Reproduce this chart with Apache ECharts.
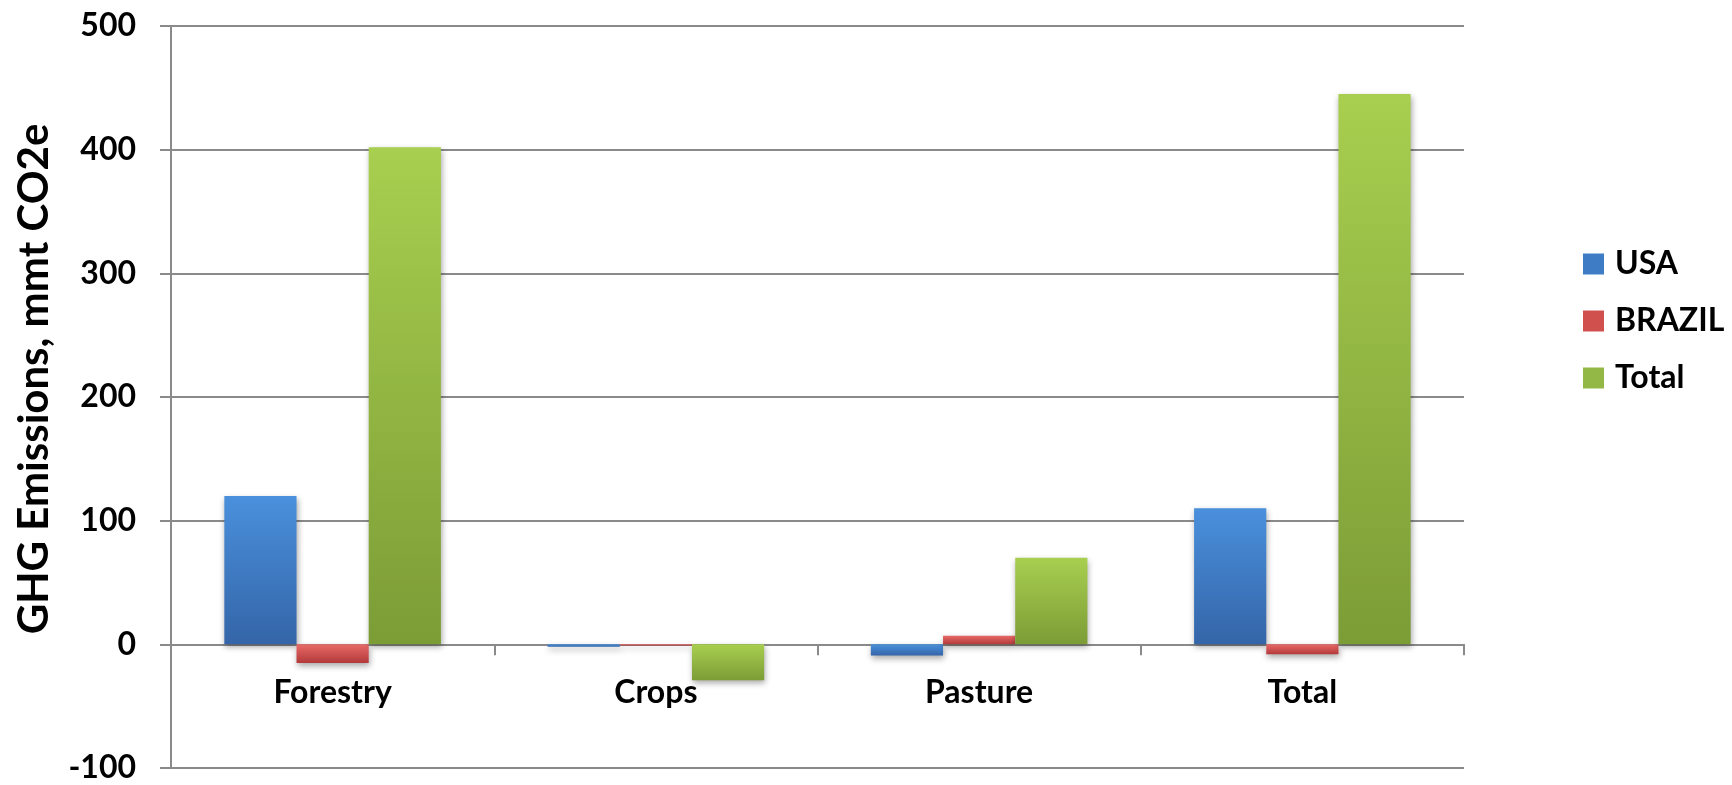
<!DOCTYPE html>
<html>
<head>
<meta charset="utf-8">
<script src="https://cdn.jsdelivr.net/npm/echarts@6/dist/echarts.min.js"></script>
<style>
html,body{margin:0;padding:0;background:#fff;}
#chart{width:1732px;height:785px;}
</style>
</head>
<body>
<div id="chart"></div>
<script>
const categories = ['Forestry', 'Crops', 'Pasture', 'Total'];
const usaValues = [120, -2, -9, 110];
const brazilValues = [-15, -1, 7, -8];
const totalValues = [402, -29, 70, 445];
const yTicks = { min: -100, max: 500, interval: 100 };

const FONT = 'Lato';
function grad(top, bottom) {
  return new echarts.graphic.LinearGradient(0, 0, 0, 1, [
    { offset: 0, color: top },
    { offset: 1, color: bottom }
  ]);
}
const styles = {
  usa: { color: grad('#4a90dc', '#3465a8'), legend: '#3f7cc6' },
  brazil: { color: grad('#e86a68', '#b3393a'), legend: '#d0504e' },
  total: { color: grad('#a8cf4f', '#7c9c36'), legend: '#93b846' }
};
function barSeries(name, data, st) {
  return {
    name: name,
    type: 'bar',
    data: data,
    barGap: '0%',
    barCategoryGap: '33%',
    itemStyle: {
      color: st.color,
      shadowColor: 'rgba(0,0,0,0.35)',
      shadowBlur: 6,
      shadowOffsetX: 1,
      shadowOffsetY: 3
    }
  };
}

const chart = echarts.init(document.getElementById('chart'));
chart.setOption({
  animation: false,
  backgroundColor: '#ffffff',
  grid: { left: 171, right: 268, top: 26, bottom: 17, containLabel: false, outerBoundsMode: 'none' },
  legend: {
    orient: 'vertical',
    left: 1578,
    top: 243,
    itemWidth: 21,
    itemHeight: 21,
    itemGap: 25,
    icon: 'rect',
    textStyle: { fontFamily: FONT, fontWeight: 'bold', fontSize: 32, color: '#000', lineHeight: 32, padding: [0, 0, 0, 6] },
    data: [
      { name: 'USA', itemStyle: { color: styles.usa.legend } },
      { name: 'BRAZIL', itemStyle: { color: styles.brazil.legend } },
      { name: 'Total', itemStyle: { color: styles.total.legend } }
    ]
  },
  xAxis: {
    type: 'category',
    data: categories,
    axisLine: { onZero: true, lineStyle: { color: '#8a8a8a', width: 2 } },
    axisTick: { show: true, alignWithLabel: false, length: 11, lineStyle: { color: '#8a8a8a', width: 2 } },
    axisLabel: { margin: -91, fontFamily: FONT, fontWeight: 'bold', fontSize: 32, color: '#000' }
  },
  yAxis: {
    type: 'value',
    min: yTicks.min,
    max: yTicks.max,
    interval: yTicks.interval,
    name: 'GHG Emissions, mmt CO2e',
    nameLocation: 'middle',
    nameRotate: 90,
    nameGap: 116,
    nameTextStyle: { fontFamily: FONT, fontWeight: 'bold', fontSize: 42, color: '#000', padding: [0, 0, 0, 36] },
    axisLine: { show: true, lineStyle: { color: '#8a8a8a', width: 2 } },
    axisTick: { show: true, length: 11, lineStyle: { color: '#8a8a8a', width: 2 } },
    axisLabel: { margin: 35, fontFamily: FONT, fontWeight: 'bold', fontSize: 32, color: '#000' },
    splitLine: { show: true, lineStyle: { color: '#8a8a8a', width: 2 } }
  },
  series: [
    barSeries('USA', usaValues, styles.usa),
    barSeries('BRAZIL', brazilValues, styles.brazil),
    barSeries('Total', totalValues, styles.total)
  ]
});
</script>
</body>
</html>
